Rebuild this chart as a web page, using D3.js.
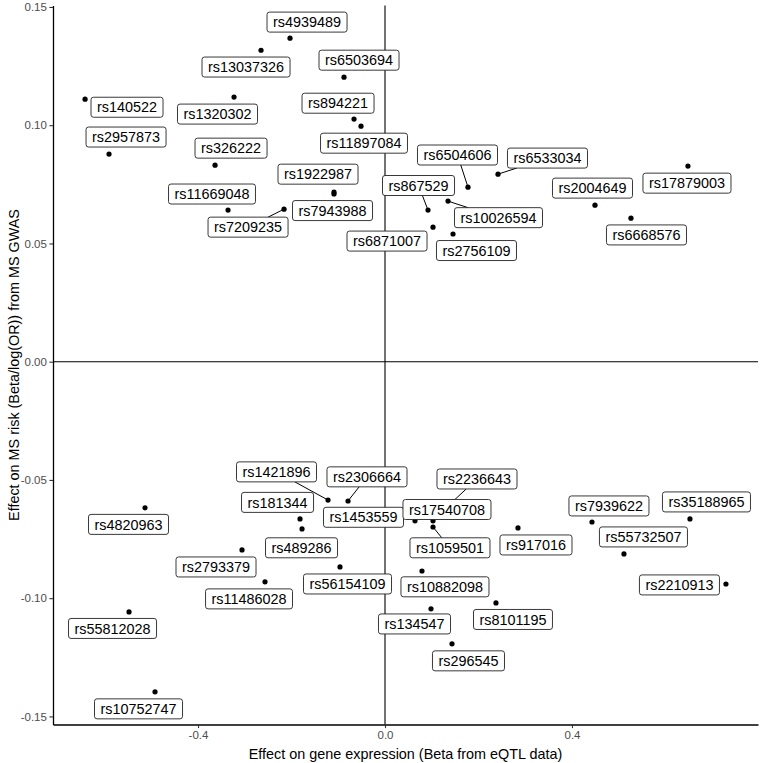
<!DOCTYPE html>
<html><head><meta charset="utf-8">
<script src="https://cdn.jsdelivr.net/npm/d3@7"></script>
<style>body{margin:0;background:#fff} svg{display:block}</style>
</head><body>
<svg id="chart" width="760" height="763"></svg>
<script>
const snps = ["rs4939489","rs13037326","rs6503694","rs140522","rs1320302","rs894221","rs11897084","rs2957873","rs326222","rs1922987","rs7943988","rs11669048","rs7209235","rs6504606","rs6533034","rs867529","rs10026594","rs6871007","rs2756109","rs2004649","rs17879003","rs6668576","rs4820963","rs55812028","rs10752747","rs1421896","rs2306664","rs181344","rs489286","rs1453559","rs2793379","rs11486028","rs56154109","rs2236643","rs17540708","rs1059501","rs917016","rs10882098","rs8101195","rs134547","rs296545","rs7939622","rs35188965","rs55732507","rs2210913"];
const exprEffect = [-0.2032,-0.2652,-0.0877,-0.6417,-0.3230,-0.0663,-0.0513,-0.5904,-0.3636,-0.1091,-0.1091,-0.3358,-0.2160,0.1775,0.2417,0.0920,0.1348,0.1027,0.1455,0.4492,0.6481,0.5262,-0.5134,-0.5476,-0.4920,-0.1219,-0.0791,-0.1818,-0.1775,0.0642,-0.3059,-0.2567,-0.0963,0.1326,0.1027,0.1027,0.2845,0.0791,0.2374,0.0984,0.1433,0.4428,0.6524,0.5112,0.7294];
const riskEffect = [0.1368,0.1317,0.1203,0.1110,0.1119,0.1026,0.0996,0.0878,0.0831,0.0717,0.0709,0.0641,0.0645,0.0738,0.0793,0.0641,0.0679,0.0569,0.0540,0.0662,0.0827,0.0607,-0.0618,-0.1058,-0.1396,-0.0585,-0.0589,-0.0665,-0.0707,-0.0673,-0.0796,-0.0931,-0.0868,-0.0614,-0.0673,-0.0699,-0.0703,-0.0885,-0.1020,-0.1045,-0.1193,-0.0678,-0.0665,-0.0813,-0.0940];
// repelled label positions (data units)
const labelExpr = [-0.1668,-0.2973,-0.0556,-0.5519,-0.3583,-0.1005,-0.0449,-0.5540,-0.3294,-0.1433,-0.1123,-0.3701,-0.2930,0.1551,0.3476,0.0717,0.2428,0.0043,0.1957,0.4439,0.6460,0.5594,-0.5487,-0.5829,-0.5273,-0.2321,-0.0385,-0.2299,-0.1786,-0.0460,-0.3615,-0.2909,-0.0802,0.1968,0.1326,0.1390,0.3230,0.1283,0.2738,0.0631,0.1786,0.4791,0.6877,0.5529,0.6299];
const labelRisk = [0.1436,0.1246,0.1275,0.1076,0.1047,0.1093,0.0924,0.0950,0.0903,0.0793,0.0639,0.0709,0.0569,0.0874,0.0861,0.0745,0.0609,0.0510,0.0470,0.0734,0.0755,0.0536,-0.0688,-0.1128,-0.1468,-0.0466,-0.0487,-0.0595,-0.0787,-0.0658,-0.0868,-0.1003,-0.0940,-0.0496,-0.0625,-0.0787,-0.0775,-0.0952,-0.1090,-0.1109,-0.1265,-0.0610,-0.0593,-0.0741,-0.0944];
const segmentLabels = ["rs7209235","rs6504606","rs6533034","rs867529","rs10026594","rs1421896","rs2306664","rs2236643","rs1059501"];
const xTickValues = [-0.4, 0, 0.4];
const xTickLabels = ["-0.4", "0.0", "0.4"];
const yTickValues = [-0.15, -0.10, -0.05, 0, 0.05, 0.10, 0.15];
const yTickLabels = ["-0.15", "-0.10", "-0.05", "0.00", "0.05", "0.10", "0.15"];
const xTitle = "Effect on gene expression (Beta from eQTL data)";
const yTitle = "Effect on MS risk (Beta/log(OR)) from MS GWAS";

const W = 760, H = 763;
const m = {left: 53, top: 5.5, right: 2, bottom: 38.5};
const font = "'Liberation Sans', Arial, Helvetica, sans-serif";
const svg = d3.select("#chart");

function expand(arr) {
  const [a, b] = d3.extent(arr); const d = (b - a) * 0.05; return [a - d, b + d];
}
const x = d3.scaleLinear().domain(expand(exprEffect)).range([m.left, W - m.right]);
const y = d3.scaleLinear().domain(expand(riskEffect)).range([H - m.bottom, m.top]);

// reference lines
svg.append("line").attr("x1", x.range()[0]).attr("x2", x.range()[1])
  .attr("y1", y(0)).attr("y2", y(0)).attr("stroke", "#000").attr("stroke-width", 1.1);
svg.append("line").attr("x1", x(0)).attr("x2", x(0))
  .attr("y1", y.range()[0]).attr("y2", y.range()[1]).attr("stroke", "#000").attr("stroke-width", 1.1);

// axes
const gx = svg.append("g").attr("transform", `translate(0,${y.range()[0]})`)
  .call(d3.axisBottom(x).tickValues(xTickValues).tickFormat((d, i) => xTickLabels[i]).tickSizeInner(3.6).tickSizeOuter(0).tickPadding(2.5));
const gy = svg.append("g").attr("transform", `translate(${x.range()[0]},0)`)
  .call(d3.axisLeft(y).tickValues(yTickValues).tickFormat((d, i) => yTickLabels[i]).tickSizeInner(3.6).tickSizeOuter(0).tickPadding(2.5));
[gx, gy].forEach(g => {
  g.select(".domain").attr("stroke", "#000").attr("stroke-width", 1.3);
  g.selectAll(".tick line").attr("stroke", "#333").attr("stroke-width", 1.1);
  g.selectAll(".tick text").attr("fill", "#4D4D4D").style("font-family", font).style("font-size", "11.5px");
});

// axis titles
svg.append("text").attr("x", (x.range()[0] + x.range()[1]) / 2).attr("y", 759)
  .attr("text-anchor", "middle").style("font-family", font).style("font-size", "14.4px").attr("fill", "#000").text(xTitle);
svg.append("text").attr("transform", `translate(19,${(y.range()[0] + y.range()[1]) / 2}) rotate(-90)`)
  .attr("text-anchor", "middle").style("font-family", font).style("font-size", "14.4px").attr("fill", "#000").text(yTitle);

// points
const data = snps.map((s, i) => ({s, px: x(exprEffect[i]), py: y(riskEffect[i]), lx: x(labelExpr[i]), ly: y(labelRisk[i])}));
svg.append("g").selectAll("circle").data(data).join("circle")
  .attr("cx", d => d.px).attr("cy", d => d.py).attr("r", 2.6).attr("fill", "#000");

// labels: measure first
const segG = svg.append("g");
const labG = svg.append("g");
const boxH = 20, padX = 6;
data.forEach(d => {
  const g = labG.append("g");
  const rect = g.append("rect");
  const t = g.append("text").attr("x", d.lx).attr("y", d.ly).attr("dy", "0.36em")
    .attr("text-anchor", "middle").style("font-family", font).style("font-size", "14.4px").attr("fill", "#000").text(d.s);
  const w = t.node().getComputedTextLength() + 2 * padX;
  d.box = [d.lx - w / 2, d.lx + w / 2, d.ly - boxH / 2, d.ly + boxH / 2];
  rect.attr("x", d.box[0]).attr("y", d.box[2]).attr("width", w).attr("height", boxH)
    .attr("rx", 2.5).attr("fill", "#fff").attr("stroke", "#222").attr("stroke-width", 0.9);
});

// leader segments: from point toward label centre, clipped at the box edge
data.filter(d => segmentLabels.includes(d.s)).forEach(d => {
  const dx = d.lx - d.px, dy = d.ly - d.py;
  let tEnter = 0;
  const [x0, x1, y0, y1] = d.box;
  if (dx !== 0) { const ta = (x0 - d.px) / dx, tb = (x1 - d.px) / dx; tEnter = Math.max(tEnter, Math.min(ta, tb)); }
  if (dy !== 0) { const ta = (y0 - d.py) / dy, tb = (y1 - d.py) / dy; tEnter = Math.max(tEnter, Math.min(ta, tb)); }
  segG.append("line").attr("x1", d.px).attr("y1", d.py)
    .attr("x2", d.px + dx * tEnter).attr("y2", d.py + dy * tEnter)
    .attr("stroke", "#000").attr("stroke-width", 1);
});
</script>
</body></html>
